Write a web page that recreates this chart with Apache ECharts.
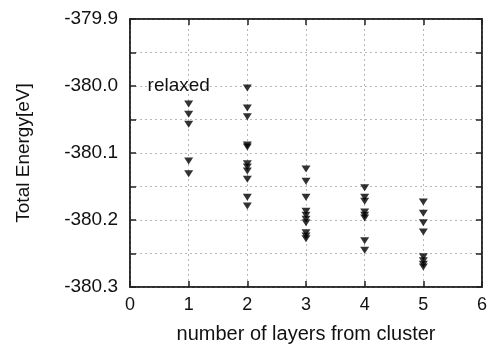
<!DOCTYPE html>
<html>
<head>
<meta charset="utf-8">
<script src="https://cdn.jsdelivr.net/npm/echarts@6/dist/echarts.min.js"></script>
<style>
html,body{margin:0;padding:0;background:#fff;}
#c{width:501px;height:349px;}
</style>
</head>
<body>
<div id="c"></div>
<script>
// Data
const layers = [1, 2, 3, 4, 5];
const energies1 = [-380.027, -380.042, -380.057, -380.112, -380.131];
const energies2 = [-380.003, -380.033, -380.046, -380.088, -380.091, -380.116, -380.121, -380.127, -380.139, -380.166, -380.179];
const energies3 = [-380.124, -380.142, -380.166, -380.187, -380.193, -380.199, -380.204, -380.219, -380.224, -380.228];
const energies4 = [-380.152, -380.166, -380.172, -380.188, -380.193, -380.197, -380.231, -380.245];
const energies5 = [-380.173, -380.190, -380.204, -380.218, -380.255, -380.261, -380.266, -380.270];
const yTickLabels = ['-379.9', '-380.0', '-380.1', '-380.2', '-380.3'];
const annotation = 'relaxed';

const groups = [energies1, energies2, energies3, energies4, energies5];
const points = [];
groups.forEach((arr, i) => arr.forEach(v => points.push([layers[i], v])));

const FONT = 'Liberation Sans, Arial, Helvetica, sans-serif';
const gridLS = {color: '#b8b8b8', type: [2, 3], width: 1};
const axLine = {show: true, onZero: false, lineStyle: {color: '#222', width: 1.5}};
const tick = {show: true, inside: true, length: 6, lineStyle: {color: '#222', width: 1.5}};

const chart = echarts.init(document.getElementById('c'), null, {renderer: 'canvas'});
chart.setOption({
  animation: false,
  backgroundColor: '#fff',
  grid: {left: 130, right: 19, top: 19, bottom: 61, containLabel: false,
         show: true, borderColor: '#222', borderWidth: 1.5, backgroundColor: 'transparent'},
  xAxis: [{
    type: 'value', min: 0, max: 6, interval: 1,
    name: 'number of layers from cluster', nameLocation: 'middle', nameGap: 37,
    nameTextStyle: {fontFamily: FONT, fontSize: 20, color: '#111'},
    axisLine: axLine, axisTick: tick,
    axisLabel: {fontFamily: FONT, fontSize: 18, color: '#111', margin: 9},
    splitLine: {show: true, lineStyle: gridLS}
  }, {
    type: 'value', min: 0, max: 6, interval: 1, position: 'top', show: true,
    axisLine: axLine, axisTick: tick, axisLabel: {show: false}, splitLine: {show: false}
  }],
  yAxis: [{
    type: 'value', min: -380.3, max: -379.9, interval: 0.05,
    name: 'Total Energy[eV]', nameLocation: 'middle', nameGap: 97,
    nameTextStyle: {fontFamily: FONT, fontSize: 19, color: '#111'},
    axisLine: axLine, axisTick: tick,
    axisLabel: {
      fontFamily: FONT, fontSize: 19, color: '#111', margin: 12,
      formatter: function (v) {
        const k = Math.round(v * 100);
        if (Math.abs(k) % 10 !== 0) return '';
        const s = v.toFixed(1);
        return yTickLabels.indexOf(s) >= 0 ? s : '';
      }
    },
    splitLine: {show: true, lineStyle: gridLS}
  }, {
    type: 'value', min: -380.3, max: -379.9, interval: 0.05, position: 'right', show: true,
    axisLine: axLine, axisTick: tick, axisLabel: {show: false}, splitLine: {show: false}
  }],
  series: [{
    type: 'scatter',
    data: points,
    symbol: 'triangle',
    symbolRotate: 180,
    symbolSize: [9, 7],
    itemStyle: {color: '#000'},
    z: 5
  }, {
    type: 'scatter',
    xAxisIndex: 1, yAxisIndex: 1,
    data: points,
    symbolSize: 0,
    silent: true
  }]
});

// annotation anchored at a data position
const p = chart.convertToPixel({xAxisIndex: 0, yAxisIndex: 0}, [0.3, -379.998]);
chart.setOption({
  graphic: [{
    type: 'text', left: p[0], top: p[1] - 8,
    style: {text: annotation, font: '19px ' + FONT, fill: '#111'}
  }]
});
</script>
</body>
</html>
